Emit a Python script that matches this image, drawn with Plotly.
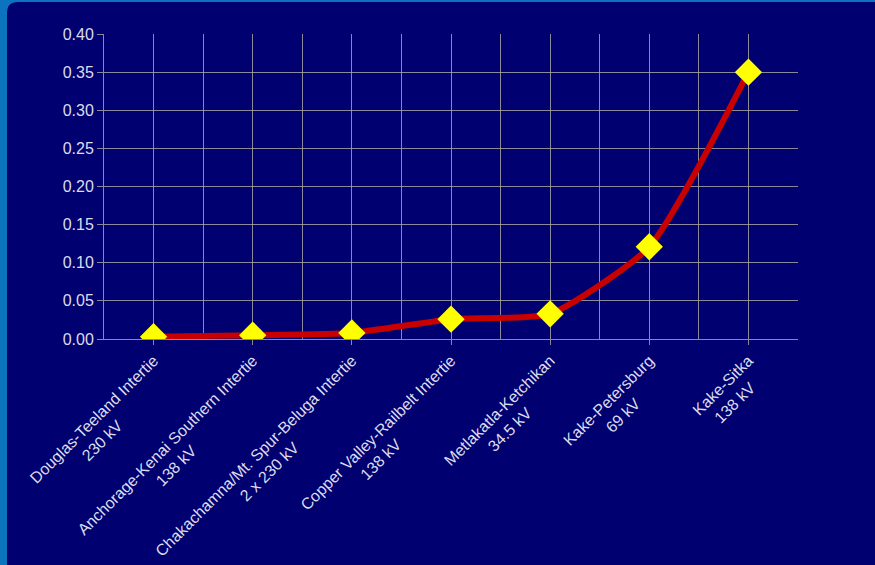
import plotly.graph_objects as go

names = ["Douglas-Teeland Intertie", "Anchorage-Kenai Southern Intertie",
         "Chakachamna/Mt. Spur-Beluga Intertie", "Copper Valley-Railbelt Intertie",
         "Metlakatla-Ketchikan", "Kake-Petersburg", "Kake-Sitka"]
voltages = ["230 kV", "138 kV", "2 x 230 kV", "138 kV", "34.5 kV", "69 kV", "138 kV"]
values = [0.003, 0.005, 0.008, 0.026, 0.033, 0.121, 0.350]

W, H = 875, 565
L, R, T, B = 104, 77, 34, 226
pw, ph = W - L - R, H - T - B

def px(x):
    return (x - L) / pw

def py(y):
    return (H - B - y) / ph

# approximate centring of second label line under the first
FS = 16
CHW = 0.5 * FS
NBSP_W = 0.278 * FS
ticktext = []
for n, v in zip(names, voltages):
    pad = max(0, int(round(((len(n) - len(v)) * CHW / 2) / NBSP_W)))
    ticktext.append(n + "<br>" + v + "\u00a0" * pad)

xs = list(range(len(names)))

fig = go.Figure()
fig.add_trace(go.Scatter(
    x=xs, y=values, mode="lines+markers",
    line=dict(color="#C80000", width=6, shape="spline", smoothing=0.55),
    marker=dict(symbol="diamond", size=21, color="#FFFF00", line=dict(width=0)),
    hoverinfo="skip", showlegend=False,
))

grid = "rgba(175,172,165,0.8)"
fig.update_xaxes(
    range=[-0.5, len(names) - 0.5], tickvals=xs, ticktext=ticktext,
    tickangle=-45, showgrid=True, gridcolor=grid, gridwidth=1,
    minor=dict(tickvals=[i - 0.5 for i in range(len(names) + 1)], showgrid=True,
               gridcolor=grid, gridwidth=1),
    ticks="outside", ticklen=5, tickcolor=grid, automargin=False,
    showline=True, linecolor=grid, zeroline=False,
    tickfont=dict(family="Liberation Sans, Arial", size=FS, color="#DCDCEC"),
)
fig.update_yaxes(
    range=[0, 0.4], dtick=0.05, tickformat=".2f",
    showgrid=True, gridcolor=grid, gridwidth=1, automargin=False,
    ticks="outside", ticklen=6, tickcolor=grid,
    showline=True, linecolor=grid, zeroline=False,
    tickfont=dict(family="Liberation Sans, Arial", size=16, color="#DCDCEC"),
)

# rounded navy panel over blue frame
x0, x1 = 7, W + 20
y0, y1 = 2, H + 20
r = 11
path = (f"M {px(x0)},{py(y1)} L {px(x0)},{py(y0 + r)} "
        f"Q {px(x0)},{py(y0)} {px(x0 + r)},{py(y0)} "
        f"L {px(x1)},{py(y0)} L {px(x1)},{py(y1)} Z")

fig.update_layout(
    width=W, height=H,
    margin=dict(l=L, r=R, t=T, b=B, autoexpand=False),
    paper_bgcolor="#0C74BE",
    plot_bgcolor="rgba(0,0,0,0)",
    shapes=[dict(type="path", xref="paper", yref="paper", path=path,
                 fillcolor="#000070", line=dict(width=0), layer="below")],
    font=dict(family="Liberation Sans, Arial", color="#DCDCEC"),
)

fig.write_html("out.html", config={"displayModeBar": False},
               post_script="document.body.style.margin='0';")
